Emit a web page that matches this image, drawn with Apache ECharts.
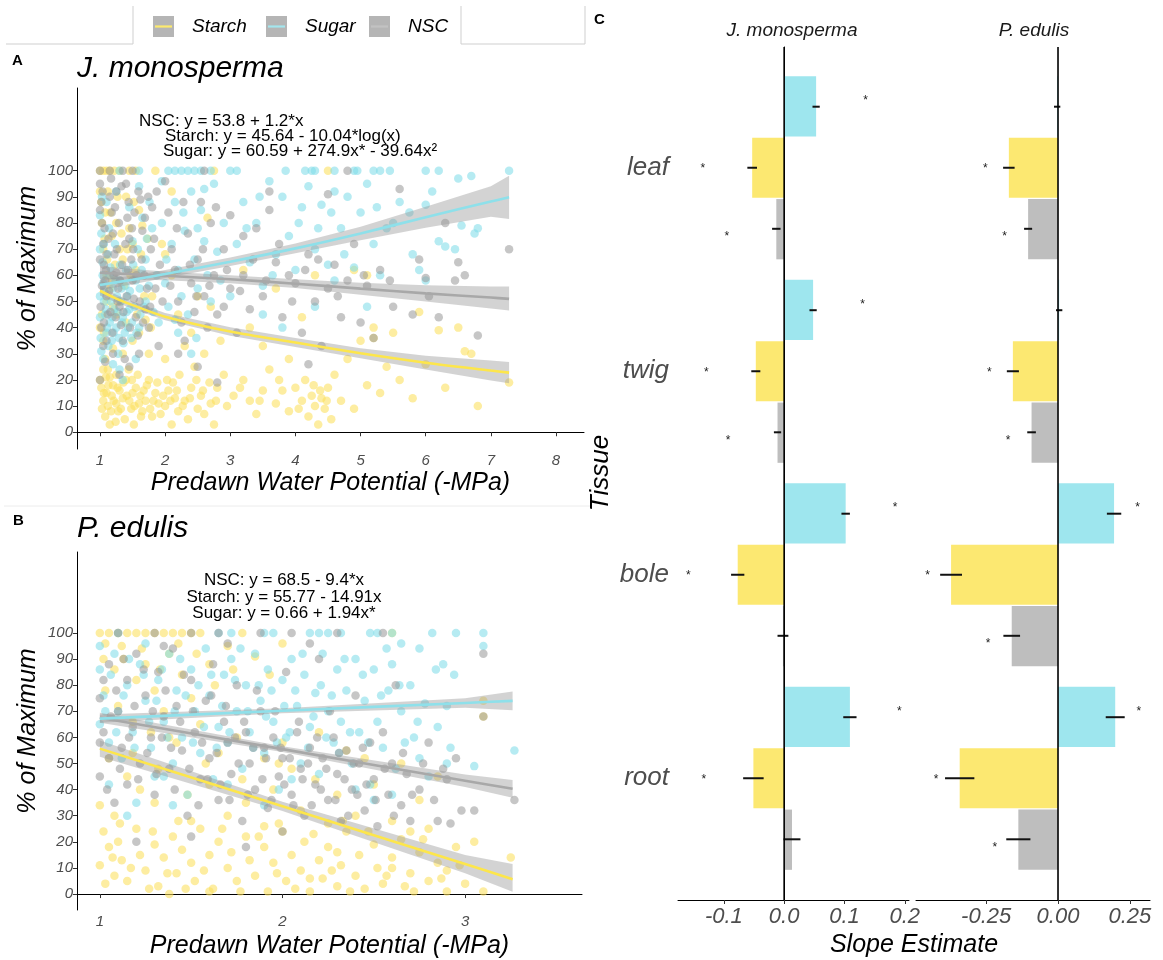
<!DOCTYPE html>
<html>
<head>
<meta charset="utf-8">
<script src="https://cdn.jsdelivr.net/npm/echarts@6/dist/echarts.min.js"></script>
<style>
  html, body { margin: 0; background: #fff; }
  #main { width: 1163px; height: 960px; }
</style>
</head>
<body>
<div id="main"></div>
<script>
const FONT = '"Liberation Sans", Arial, Helvetica, sans-serif';

// ---- panel A: J. monosperma, points [predawn, % of max]
const starchA = [[1,100],[1.05,100],[1.1,100],[1.15,100],[1.22,100],[1.3,100],[1.45,100],[1.55,100],[1.85,100],[2.75,100],[4.5,100],
  [1.02,88],[1.08,84],[1.12,92],[1.18,75],[1.25,80],[1.3,70],[1.35,66],[1.4,90],[1.45,78],[1.5,72],[1.55,62],[1.6,85],[1.65,79],[1.05,70],[1.1,60],[1.15,55],[1.2,48],[1.25,45],[1.3,50],[1.4,42],[1.5,35],[1.35,30],[1.05,35],[1.08,28],[1.12,24],[1.2,32],[1.6,38],[1.7,43],[1.75,30],[1.8,52],[2.1,92],[2.0,68],[1.95,72],
  [1.02,17],[1.05,12],[1.08,6],[1.1,15],[1.12,10],[1.15,3],[1.18,14],[1.2,18],[1.25,11],[1.28,8],[1.3,16],[1.35,13],[1.38,5],[1.4,20],[1.45,12],[1.48,9],[1.5,15],[1.52,3],[1.55,17],[1.6,11],[1.62,14],[1.65,8],[1.7,12],[1.75,20],[1.8,6],[1.85,15],[1.9,11],[1.25,22],[1.15,21],[1.05,24],
  [2.0,10],[2.05,16],[2.1,3],[2.12,19],[2.15,13],[2.2,8],[2.22,22],[2.3,12],[2.35,5],[2.4,17],[2.45,25],[2.5,9],[2.55,14],[2.6,7],[2.7,11],[2.75,3],[2.8,17],[2.9,22],[2.95,10],[2.2,45],[2.4,38],[2.5,52],[2.6,30],[2.7,48],[2.85,35],[2.1,60],[2.3,33],[2.65,82],[2.0,28],
  [3.05,14],[3.2,20],[3.3,12],[3.4,7],[3.5,16],[3.6,24],[3.7,11],[3.8,16],[3.9,8],[4.0,17],[4.1,12],[4.2,6],[4.25,14],[4.3,10],[4.35,3],[4.4,13],[4.45,9],[4.5,17],[3.3,40],[3.5,33],[3.7,55],[3.9,28],[4.1,44],[4.3,60],[3.2,62],
  [4.6,22],[4.7,12],[4.8,28],[4.9,9],[5.0,35],[5.1,18],[5.2,40],[5.3,15],[5.4,25],[5.5,38],[5.6,20],[5.8,13],[5.9,46],[6.0,26],[6.2,39],[6.3,17],[6.5,40],[6.6,31],[6.7,30],[6.8,10],[7.28,19],[5.1,60],[5.2,36],[4.9,62],
  [1.0,92],[1.03,80],[1.07,74],[1.11,66],[1.16,84],[1.19,58],[1.23,64],[1.27,90],[1.33,76],[1.37,56],[1.42,70],[1.47,60],[1.52,88],[1.57,45],[1.63,68],[1.68,52],[1.73,74],[1.78,40],[1.0,40],[1.03,45],[1.06,38],[1.1,50],
  [1.0,20],[1.03,9],[1.06,15],[1.09,21],[1.13,18],[1.17,8],[1.21,12],[1.24,4],[1.27,17],[1.32,9],[1.36,19],[1.41,14],[1.44,24],[1.49,20],[1.53,10],[1.58,22],[1.63,6],[1.67,16],[1.72,18],[1.77,9],[1.82,12],[1.88,19],[1.93,7],[1.97,14],
  [2.03,20],[2.08,12],[2.18,16],[2.27,10],[2.38,13],[2.48,20],[2.58,16],[2.68,19],[2.78,12],[3.15,17],[3.45,12],[3.75,20],[4.05,9],[4.15,20],[4.28,18],[4.38,16],[4.48,12],[4.55,5]];
const sugarA = [[1.3,100],[1.6,100],[2.05,100],[2.15,100],[2.25,100],[2.35,100],[2.45,100],[2.55,100],[2.7,100],[3.0,100],[3.1,100],[3.85,100],[4.15,100],[4.25,100],[4.3,100],[4.6,100],[4.9,100],[4.95,100],[5.2,100],[5.3,100],[5.45,100],[6.0,100],[6.2,100],[7.28,100],
  [1.0,83],[1.02,76],[1.04,65],[1.05,57],[1.06,50],[1.08,45],[1.1,38],[1.02,31],[1.12,68],[1.15,60],[1.15,42],[1.18,35],[1.2,55],[1.22,47],[1.25,40],[1.28,30],[1.3,58],[1.32,50],[1.35,44],[1.38,38],[1.4,62],[1.42,52],[1.45,47],[1.48,36],[1.5,73],[1.55,58],[1.6,94],[1.62,45],[1.65,82],[1.7,66],[1.75,56],[1.8,78],[1.3,24],[1.2,26],[1.1,88],[1.25,92],[1.45,86],[1.55,28],[1.35,20],[1.05,28],[1.7,50],[1.6,40],
  [1.95,80],[2.0,57],[2.05,48],[2.1,72],[2.15,88],[2.2,62],[2.25,52],[2.3,77],[2.35,45],[2.4,92],[2.45,66],[2.5,55],[2.55,85],[2.6,73],[2.65,60],[2.7,50],[2.75,95],[2.8,69],[2.9,80],[3.0,52],[2.2,38],[2.4,30],[2.15,43],[2.6,93],
  [3.1,72],[3.2,88],[3.3,65],[3.4,80],[3.5,56],[3.6,96],[3.7,68],[3.8,90],[3.9,75],[4.0,62],[4.1,86],[4.2,94],[4.3,70],[4.4,87],[4.5,64],[4.6,92],[4.7,78],[4.8,90],[4.9,63],[5.0,84],[3.8,40],[4.3,48],[4.6,58],[3.5,45],
  [5.1,95],[5.2,72],[5.3,60],[5.4,78],[5.5,80],[5.6,88],[5.8,68],[6.0,58],[6.0,87],[6.2,73],[6.3,71],[6.5,97],[6.55,79],[6.7,98],[6.75,76],[6.8,78],[5.1,48],[5.9,62],
  [1.0,70],[1.0,52],[1.0,44],[1.01,36],[1.03,90],[1.04,60],[1.06,72],[1.07,54],[1.09,47],[1.11,40],[1.13,33],[1.14,78],[1.16,63],[1.17,50],[1.19,44],[1.21,38],[1.23,72],[1.24,58],[1.26,52],[1.27,46],[1.29,36],[1.31,64],[1.33,55],[1.34,42],[1.36,34],[1.39,56],[1.41,46],[1.43,40],[1.46,54],[1.49,42],[1.51,64],[1.53,48],[1.56,38],[1.58,70],[1.61,55],[1.64,62],[1.67,48],[1.72,74],[1.76,88],[1.82,46],[1.87,60],[1.9,42],
  [2.02,66],[2.28,84],[2.5,78],[2.85,58],[3.25,78],[3.45,90],[3.65,60],[4.05,80],[4.35,78],[4.55,84],[4.75,68],[5.25,86],[5.75,84],[6.45,70],[6.1,92],[1.95,96],[2.48,36]];
const nscA = [[1.0,100],[1.15,100],[1.35,100],[1.5,100],[2.6,100],[4.8,100],
  [1.0,95],[1.02,88],[1.03,80],[1.05,72],[1.06,64],[1.08,58],[1.1,52],[1.12,45],[1.02,40],[1.05,33],[1.08,27],[1.0,20],[1.15,90],[1.18,84],[1.2,76],[1.22,68],[1.25,61],[1.28,55],[1.3,48],[1.32,41],[1.35,35],[1.38,28],[1.4,95],[1.42,82],[1.45,74],[1.48,66],[1.5,58],[1.52,51],[1.55,44],[1.58,37],[1.6,30],[1.62,89],[1.65,77],[1.68,60],[1.7,47],[1.75,40],[1.78,70],[1.8,86],[1.85,55],[1.9,33],[1.3,22],[1.2,30],[1.45,25],[1.1,68],[1.25,92],
  [2.0,96],[2.05,84],[2.1,70],[2.15,62],[2.2,50],[2.25,42],[2.3,35],[2.35,76],[2.4,57],[2.45,46],[2.5,66],[2.55,88],[2.6,52],[2.65,40],[2.7,80],[2.75,60],[2.8,45],[2.9,70],[3.0,55],[3.0,83],[3.1,38],[3.2,60],[3.3,47],[3.4,78],[3.5,52],[2.2,30],[2.9,48],[2.5,25],[3.2,75],[2.8,19],
  [3.6,85],[3.7,65],[3.8,44],[3.9,60],[4.0,57],[4.1,38],[4.2,68],[4.3,50],[4.4,33],[4.5,55],[4.6,64],[4.7,44],[4.8,58],[4.9,72],[5.0,42],[5.1,56],[5.2,36],[5.3,62],[5.5,48],[5.6,93],[5.8,45],[5.9,66],[6.0,59],[6.2,44],[6.3,80],[6.5,65],[6.6,60],[6.8,37],[7.28,70],[4.5,91],[3.6,92],[4.2,26],
  [1.0,85],[1.0,66],[1.01,48],[1.03,56],[1.04,92],[1.06,42],[1.07,78],[1.09,62],[1.1,35],[1.13,74],[1.14,54],[1.16,46],[1.17,97],[1.19,38],[1.21,60],[1.23,86],[1.24,44],[1.26,70],[1.27,50],[1.29,80],[1.31,58],[1.33,94],[1.34,64],[1.36,46],[1.39,72],[1.41,52],[1.43,62],[1.44,88],[1.46,40],[1.49,78],[1.51,70],[1.53,84],[1.56,60],[1.59,92],[1.61,50],[1.64,66],[1.66,42],[1.69,82],[1.72,55],[1.74,90],[1.77,48],[1.83,74],[1.87,92],[1.92,64],[1.96,50],
  [2.08,56],[2.18,78],[2.28,88],[2.38,64],[2.48,52],[2.58,70],[2.68,56],[2.78,86],[2.95,62],[3.15,54],[3.35,66],[3.55,58],[3.75,72],[3.95,50],[4.15,62],[4.35,66],[4.65,52],[5.05,60],[5.45,58],[6.05,52],[6.45,58]];

// fitted curves and 95% bands, panel A
const fitXA = [1, 1.25, 1.5, 2, 3, 4, 5, 6, 7, 7.28];
const starchFitA = [54.1, 51.1, 48.6, 44.2, 38.5, 34.3, 30.2, 26.6, 23.6, 22.8];
const starchLoA  = [52.3, 49.6, 47.2, 42.8, 36.9, 32.6, 28.3, 24.0, 19.8, 18.7];
const starchHiA  = [55.9, 52.6, 50.0, 45.6, 40.1, 36.0, 32.1, 29.2, 27.4, 26.9];
const sugarFitA  = [56.3, 57.3, 58.3, 60.5, 65.2, 70.3, 76.0, 82.2, 88.2, 89.8];
const sugarLoA   = [54.2, 55.4, 56.6, 59.0, 63.6, 68.4, 73.4, 78.2, 82.4, 81.5];
const sugarHiA   = [58.4, 59.2, 59.9, 62.0, 66.8, 72.2, 78.6, 86.2, 94.0, 98.1];
const nscFitA    = [61.0, 60.7, 60.4, 59.8, 58.5, 56.8, 54.9, 53.1, 51.5, 51.0];
const nscLoA     = [58.5, 58.4, 58.4, 58.1, 57.0, 55.1, 52.6, 50.0, 47.3, 46.5];
const nscHiA     = [63.5, 63.0, 62.4, 61.5, 60.0, 58.5, 57.2, 56.2, 55.7, 55.7];

// ---- panel B: P. edulis
const starchB = [[1.0,100],[1.05,100],[1.1,100],[1.15,100],[1.2,100],[1.25,100],[1.3,100],[1.35,100],[1.4,100],[1.45,100],[1.5,100],[1.55,100],[1.78,100],[2.6,100],
  [1.02,90],[1.08,86],[1.12,95],[1.2,82],[1.25,88],[1.3,78],[1.38,92],[1.45,84],[1.5,75],[1.6,88],[1.7,95],[1.85,91],[2.0,96],[1.1,72],[1.18,66],[1.28,62],[1.35,70],[1.42,58],[1.55,65],[1.65,54],[1.75,60],[1.9,52],[2.05,48],[2.2,62],[2.35,55],[2.5,42],[2.65,50],[2.85,45],[3.1,74],[3.1,68],[1.05,52],[1.15,45],[1.22,40],[1.32,48],[1.48,38],[1.6,42],[1.8,35],[1.95,40],[2.1,32],[2.3,38],[2.4,30],[2.7,24],[1.0,34],[1.08,30],[1.3,35],[1.5,28],[2.0,58],[1.7,30],
  [1.0,11],[1.02,24],[1.05,18],[1.08,7],[1.1,20],[1.12,13],[1.15,5],[1.2,25],[1.22,15],[1.25,9],[1.3,19],[1.32,3],[1.35,14],[1.4,22],[1.42,8],[1.45,17],[1.5,12],[1.52,5],[1.55,25],[1.6,15],[1.62,2],[1.65,20],[1.7,10],[1.72,16],[1.75,5],[1.8,22],[1.82,13],[1.85,7],[1.9,18],[1.92,1],[1.95,12],[2.0,24],[2.02,5],[2.05,15],[2.1,9],[2.12,20],[2.15,1],[2.2,13],[2.22,6],[2.25,18],[2.3,3],[2.32,11],[2.35,24],[2.4,7],[2.42,15],[2.45,2],[2.5,19],[2.52,10],[2.55,4],[2.6,14],[2.65,21],[2.7,8],[2.72,1],[2.75,16],[2.8,5],[2.85,12],[2.9,9],[2.95,18],[3.0,4],[3.1,1],[3.25,14],[2.25,27],[1.98,27],[1.38,0],[2.8,25],[2.6,28],
  [1.03,96],[1.13,90],[1.23,94],[1.33,86],[1.43,96],[1.53,92],[1.63,80],[1.73,86],[1.93,84],[1.03,78],[1.18,54],[1.38,60],[1.58,50],[1.78,44],[1.98,50],[2.18,44],[2.45,52],[2.75,36],
  [1.03,4],[1.07,14],[1.11,27],[1.17,10],[1.27,2],[1.29,24],[1.37,8],[1.43,28],[1.47,2],[1.57,9],[1.67,25],[1.77,1],[1.87,22],[1.97,8],[2.07,2],[2.17,23],[2.27,9],[2.37,1],[2.47,24],[2.57,7],[2.67,3],[2.77,21],[2.87,6],[2.97,11],[3.05,20],[2.33,28],[1.9,26],[1.6,1],[2.3,16],[2.15,6],[2.6,10],[2.9,1]];
const sugarB = [[1.65,100],[1.72,100],[1.9,100],[1.95,100],[2.15,100],[2.2,100],[2.25,100],[2.32,100],[2.48,100],[2.52,100],[2.6,100],[2.82,100],[2.95,100],[3.1,100],[1.1,100],
  [1.0,86],[1.0,65],[1.02,76],[1.05,58],[1.05,42],[1.08,92],[1.1,70],[1.12,52],[1.15,80],[1.18,62],[1.2,35],[1.22,88],[1.25,74],[1.28,56],[1.3,45],[1.32,82],[1.35,66],[1.38,92],[1.4,50],[1.42,78],[1.45,60],[1.48,38],[1.5,86],[1.52,70],[1.55,54],[1.58,94],[1.6,76],[1.62,44],[1.65,64],[1.68,84],[1.7,58],[1.72,90],[1.75,70],[1.78,48],[1.8,80],[1.82,62],[1.85,92],[1.88,74],[1.9,54],[1.92,86],[1.95,66],[1.98,40],[2.0,82],[2.02,60],[2.05,90],[2.08,72],[2.1,50],[2.12,84],[2.15,64],[2.18,77],[2.2,46],[2.22,92],[2.25,70],[2.28,58],[2.3,86],[2.32,66],[2.35,78],[2.38,50],[2.4,90],[2.42,62],[2.45,74],[2.48,42],[2.5,86],[2.52,66],[2.55,56],[2.58,78],[2.6,88],[2.62,48],[2.65,70],[2.7,80],[2.72,60],[2.75,94],[2.78,73],[2.8,45],[2.85,64],[2.88,88],[2.9,72],[2.92,56],[3.05,49],[3.1,95],[3.27,55],[1.15,30],[1.4,34],[1.9,34],[2.5,36],[1.25,96],[2.65,96],
  [1.0,95],[1.03,70],[1.06,84],[1.09,62],[1.13,76],[1.16,90],[1.19,56],[1.24,84],[1.27,66],[1.31,74],[1.34,86],[1.37,60],[1.41,70],[1.44,90],[1.47,76],[1.51,58],[1.54,80],[1.57,64],[1.61,84],[1.64,56],[1.67,72],[1.71,62],[1.74,82],[1.77,94],[1.81,70],[1.84,56],[1.87,80],[1.91,68],[1.94,78],[1.97,58],
  [2.01,72],[2.04,62],[2.07,78],[2.11,92],[2.14,56],[2.17,68],[2.21,80],[2.24,60],[2.27,76],[2.31,54],[2.34,90],[2.37,62],[2.44,84],[2.47,58],[2.54,76],[2.57,94],[2.64,80],[2.67,58],[2.74,66],[2.84,86],[2.94,84],[2.9,50],[2.75,52],[1.35,45],[1.7,42],[2.05,44],[2.4,40],[2.6,38]];
const nscB = [[1.1,100],[1.3,100],[1.5,100],[1.65,100],[1.88,100],[2.05,100],[2.3,100],[2.55,100],
  [1.0,75],[1.0,45],[1.02,62],[1.05,88],[1.05,52],[1.08,35],[1.1,70],[1.12,56],[1.15,82],[1.15,42],[1.18,64],[1.2,92],[1.22,50],[1.25,76],[1.28,60],[1.3,38],[1.32,85],[1.35,68],[1.38,48],[1.4,94],[1.42,72],[1.45,55],[1.48,30],[1.5,82],[1.52,62],[1.55,44],[1.58,74],[1.6,52],[1.62,88],[1.65,36],[1.68,66],[1.7,58],[1.72,46],[1.75,80],[1.78,28],[1.8,62],[1.82,50],[1.85,40],[1.88,70],[1.9,56],[1.92,33],[1.95,60],[1.98,45],[2.0,52],[2.02,85],[2.05,38],[2.08,62],[2.1,48],[2.12,30],[2.15,56],[2.18,42],[2.2,90],[2.22,52],[2.25,36],[2.28,60],[2.3,46],[2.32,28],[2.35,55],[2.38,40],[2.4,76],[2.42,50],[2.45,32],[2.48,58],[2.5,44],[2.52,26],[2.55,62],[2.58,38],[2.6,50],[2.62,80],[2.65,34],[2.68,46],[2.7,28],[2.75,40],[2.8,58],[2.85,28],[2.88,48],[2.92,27],[3.05,32],[3.1,92],[3.1,68],[3.27,36],[1.2,20],[1.5,22],[1.8,18],[2.0,24],[1.35,95],[2.15,96],[1.7,96],
  [1.0,58],[1.02,82],[1.04,40],[1.06,68],[1.09,78],[1.11,48],[1.13,90],[1.16,60],[1.19,72],[1.21,44],[1.24,86],[1.26,54],[1.29,70],[1.31,46],[1.34,60],[1.36,78],[1.39,56],[1.41,40],[1.44,66],[1.46,84],[1.49,48],[1.51,70],[1.54,34],[1.56,58],[1.59,44],[1.61,76],[1.64,54],[1.66,42],[1.69,72],[1.71,36],[1.74,60],[1.76,50],[1.79,66],[1.81,38],[1.84,56],[1.86,78],[1.89,44],[1.91,52],[1.94,36],[1.96,70],
  [1.99,56],[2.01,42],[2.04,52],[2.06,34],[2.09,66],[2.11,44],[2.14,50],[2.16,34],[2.19,60],[2.21,40],[2.24,48],[2.26,70],[2.29,36],[2.31,54],[2.34,44],[2.36,30],[2.39,50],[2.41,38],[2.44,56],[2.46,42],[2.51,36],[2.56,48],[2.61,30],[2.66,54],[2.71,38],[2.77,50],[2.83,36],[2.9,44],[2.95,52],[2.98,32]];

const fitXB = [1, 2, 3, 3.26];
const starchFitB = [55.7, 33.6, 11.5, 5.7];
const starchLoB  = [52.6, 31.8, 8.0, 0.9];
const starchHiB  = [58.8, 35.4, 15.0, 11.5];
const sugarFitB  = [67.2, 70.2, 73.2, 74.0];
const sugarLoB   = [65.6, 69.2, 71.4, 70.4];
const sugarHiB   = [68.8, 71.2, 75.0, 77.6];
const nscFitB    = [67.5, 55.5, 43.4, 40.3];
const nscLoB     = [65.6, 54.4, 41.0, 36.9];
const nscHiB     = [69.4, 56.6, 45.8, 43.7];

// ---- panel C: slope estimates by tissue (rows: Sugar, Starch, NSC)
const tissues = ['leaf', 'twig', 'bole', 'root'];
const seriesNames = ['Sugar', 'Starch', 'NSC'];
const slopeJ = [[0.053, 0.048, 0.102, 0.109], [-0.053, -0.047, -0.077, -0.051], [-0.013, -0.011, -0.002, 0.013]];
const seJ    = [[0.006, 0.006, 0.007, 0.011], [0.008, 0.0075, 0.011, 0.017], [0.007, 0.006, 0.009, 0.014]];
const sigJ   = [[1, 1, 1, 1], [1, 1, 1, 1], [1, 1, 0, 0]];
const slopeP = [[-0.003, 0.004, 0.195, 0.199], [-0.171, -0.157, -0.372, -0.342], [-0.104, -0.092, -0.161, -0.138]];
const seP    = [[0.011, 0.011, 0.025, 0.033], [0.02, 0.021, 0.038, 0.051], [0.014, 0.015, 0.029, 0.042]];
const sigP   = [[0, 0, 1, 1], [1, 1, 1, 1], [1, 1, 1, 1]];

const xTicksA = [1, 2, 3, 4, 5, 6, 7, 8];
const xTicksB = [1, 2, 3];
const yTicks = [0, 10, 20, 30, 40, 50, 60, 70, 80, 90, 100];
const xTicksJ = [-0.1, 0, 0.1, 0.2];
const xTicksP = [-0.25, 0, 0.25];

// colours
const pointCol = { Starch: 'rgba(252,224,92,0.72)', Sugar: 'rgba(128,220,232,0.72)', NSC: 'rgba(150,150,150,0.68)' };
const lineCol = { Starch: '#FDE64B', Sugar: '#8EE0EA', NSC: '#A8A8A8' };
const keyLineCol = { Starch: '#FDE64B', Sugar: '#8EE0EA', NSC: '#b4b4b4' };
const barCol = { Sugar: '#9EE6EE', Starch: '#FCE871', NSC: '#BEBEBE' };

const tickText = { fontStyle: 'italic', fontSize: 15, color: '#4d4d4d', fontFamily: FONT };
const titleText = { fontStyle: 'italic', fontSize: 25, color: '#000', fontFamily: FONT };

function scatterAxes(gi, xmin, xmax, xt, ymin, ymax, nameGapX) {
  const x = {
    gridIndex: gi, type: 'value', min: xmin, max: xmax,
    axisLine: { lineStyle: { color: '#000', width: 1 } },
    axisTick: { length: 4, lineStyle: { color: '#333' }, customValues: xt },
    axisLabel: Object.assign({ margin: 4, customValues: xt }, tickText),
    splitLine: { show: false },
    name: 'Predawn Water Potential (-MPa)', nameLocation: 'middle', nameGap: nameGapX, nameTextStyle: titleText
  };
  const y = {
    gridIndex: gi, type: 'value', min: ymin, max: ymax,
    axisLine: { show: true, lineStyle: { color: '#000', width: 1 } },
    axisTick: { show: true, length: 4, lineStyle: { color: '#333' }, customValues: yTicks },
    axisLabel: Object.assign({ margin: 4, customValues: yTicks }, tickText),
    splitLine: { show: false },
    name: '% of Maximum', nameLocation: 'middle', nameGap: 36, nameRotate: 90, nameTextStyle: titleText
  };
  return [x, y];
}

function pointSeries(gi, name, data) {
  return { type: 'scatter', name, xAxisIndex: gi, yAxisIndex: gi, data, symbolSize: 8.5,
    itemStyle: { color: pointCol[name] }, silent: true, z: 2 };
}
// confidence band drawn as one polygon through the axis scales
function bandSeries(gi, xs, lo, hi) {
  return {
    type: 'custom', xAxisIndex: gi, yAxisIndex: gi, silent: true, z: 3,
    data: xs.map((x, i) => [x, lo[i], hi[i]]), encode: { x: 0, y: [1, 2] },
    renderItem(params, api) {
      if (params.dataIndex !== 0) return null;
      const top = xs.map((x, i) => api.coord([x, hi[i]]));
      const bot = xs.map((x, i) => api.coord([x, lo[i]])).reverse();
      return { type: 'polygon', shape: { points: top.concat(bot) }, style: { fill: 'rgba(150,150,150,0.42)' } };
    }
  };
}
function fitSeries(gi, name, xs, ys) {
  return { type: 'line', name, xAxisIndex: gi, yAxisIndex: gi, smooth: 0.3, symbol: 'none', silent: true, z: 4,
    lineStyle: { color: lineCol[name], width: 2.6 }, data: xs.map((x, i) => [x, ys[i]]) };
}

// panel C helpers
const starDy = [-6, 1, 8];
function barSeries(ai, est) {
  return seriesNames.map((n, k) => ({
    type: 'bar', name: n, xAxisIndex: ai, yAxisIndex: ai, data: est[k],
    barCategoryGap: '10%', barGap: '2%', itemStyle: { color: barCol[n] }, silent: true, z: 2
  }));
}
function errSeries(ai, est, se, sig) {
  const data = [];
  est.forEach((row, k) => row.forEach((v, i) => data.push([v, i, k, se[k][i], sig[k][i]])));
  return {
    type: 'custom', xAxisIndex: ai, yAxisIndex: ai, silent: true, z: 6, data,
    encode: { x: 0, y: 1 },
    renderItem(params, api) {
      const v = api.value(0), cat = api.value(1), k = api.value(2), s = api.value(3), g = api.value(4);
      const band = Math.abs(api.size([0, 1])[1]);
      const y = api.coord([v, cat])[1] + (k - 1) * band * 0.3;
      const a = api.coord([v - s, cat])[0], b = api.coord([v + s, cat])[0];
      const children = [{ type: 'line', shape: { x1: a, y1: y, x2: b, y2: y }, style: { stroke: '#111', lineWidth: 2 } }];
      if (g) {
        const sx = api.coord([v + (v < 0 ? -0.082 : 0.082), cat])[0];
        children.push({ type: 'text', x: sx, y: y + starDy[k],
          style: { text: '*', fontSize: 12, fill: '#222', align: 'center', verticalAlign: 'middle', fontFamily: FONT } });
      }
      return { type: 'group', children };
    }
  };
}
function zeroLine(ai) {
  return {
    type: 'custom', xAxisIndex: ai, yAxisIndex: ai, silent: true, z: 8, data: [[0, 0.5]], encode: { x: 0, y: 1 },
    renderItem(params, api) {
      const p0 = api.coord([0, 0]), p1 = api.coord([0, 1]);
      return { type: 'line', shape: { x1: p0[0], y1: p0[1], x2: p1[0], y2: p1[1] }, style: { stroke: '#000', lineWidth: 1.6 } };
    }
  };
}
const slopeTick = { fontStyle: 'italic', fontSize: 22, color: '#4d4d4d', fontFamily: FONT };

function keyIcon(c) {
  const svg = '<svg xmlns="http://www.w3.org/2000/svg" width="21" height="21"><rect width="21" height="21" fill="#a3a3a3"/>' +
    '<line x1="2" y1="10.5" x2="19" y2="10.5" stroke="' + c + '" stroke-width="2.2"/></svg>';
  return 'image://data:image/svg+xml;charset=utf-8,' + encodeURIComponent(svg);
}

const axA = scatterAxes(0, 0.647, 8.43, xTicksA, -6.4, 131.6, 22);
const axB = scatterAxes(1, 0.875, 3.64, xTicksB, -6.1, 131, 24);

const chart = echarts.init(document.getElementById('main'), null, { renderer: 'canvas' });
chart.setOption({
  animation: false,
  backgroundColor: '#fff',
  textStyle: { fontFamily: FONT },
  title: [
    { text: 'J. monosperma', left: 77, top: 54, padding: 0, textStyle: { fontStyle: 'italic', fontWeight: 'normal', fontSize: 30, color: '#000', fontFamily: FONT } },
    { text: 'P. edulis', left: 77, top: 514, padding: 0, textStyle: { fontStyle: 'italic', fontWeight: 'normal', fontSize: 30, color: '#000', fontFamily: FONT } },
    { text: 'J. monosperma', left: 792, top: 21, padding: 0, textAlign: 'center', textStyle: { fontStyle: 'italic', fontWeight: 'normal', fontSize: 19, color: '#1a1a1a', fontFamily: FONT } },
    { text: 'P. edulis', left: 1034, top: 21, padding: 0, textAlign: 'center', textStyle: { fontStyle: 'italic', fontWeight: 'normal', fontSize: 19, color: '#1a1a1a', fontFamily: FONT } }
  ],
  legend: ['Starch', 'Sugar', 'NSC'].map((n, i) => ({
    data: [{ name: n, icon: keyIcon(keyLineCol[n]) }],
    left: [153, 266, 369][i], top: 16, padding: 0, itemWidth: 21, itemHeight: 21, selectedMode: false,
    textStyle: { fontStyle: 'italic', fontSize: 19, color: '#000', fontFamily: FONT, padding: [0, 0, 0, 13] }
  })),
  grid: [
    { left: 77, top: 88, width: 507, height: 361 },
    { left: 77, top: 552, width: 505, height: 358 },
    { left: 678, top: 47, width: 231, height: 853 },
    { left: 678, top: 66, width: 231, height: 814 },
    { left: 916, top: 47, width: 234, height: 853 },
    { left: 916, top: 66, width: 234, height: 814 }
  ],
  xAxis: [
    axA[0], axB[0],
    { gridIndex: 2, type: 'value', min: -0.176, max: 0.207,
      axisLine: { lineStyle: { color: '#000' } }, axisTick: { length: 4, lineStyle: { color: '#333' }, customValues: xTicksJ },
      axisLabel: Object.assign({ margin: 6, customValues: xTicksJ, formatter: v => v.toFixed(1) }, slopeTick), splitLine: { show: false } },
    { gridIndex: 3, type: 'value', min: -0.176, max: 0.207, show: false },
    { gridIndex: 4, type: 'value', min: -0.494, max: 0.32,
      axisLine: { lineStyle: { color: '#000' } }, axisTick: { length: 4, lineStyle: { color: '#333' }, customValues: xTicksP },
      axisLabel: Object.assign({ margin: 6, customValues: xTicksP, formatter: v => v.toFixed(2) }, slopeTick), splitLine: { show: false } },
    { gridIndex: 5, type: 'value', min: -0.494, max: 0.32, show: false }
  ],
  yAxis: [
    axA[1], axB[1],
    { gridIndex: 2, type: 'value', min: 0, max: 1, axisLine: { show: true, lineStyle: { color: '#000' } },
      axisTick: { show: false }, axisLabel: { show: false }, splitLine: { show: false } },
    { gridIndex: 3, type: 'category', inverse: true, data: tissues,
      axisLine: { show: false }, axisTick: { show: true, length: 5, alignWithLabel: true, lineStyle: { color: '#333' } },
      axisLabel: { margin: 9, fontStyle: 'italic', fontSize: 26, color: '#4d4d4d', fontFamily: FONT } },
    { gridIndex: 4, type: 'value', min: 0, max: 1, show: false },
    { gridIndex: 5, type: 'category', inverse: true, data: tissues, show: false }
  ],
  graphic: [
    { type: 'polyline', shape: { points: [[6, 44], [133, 44], [133, 6]] }, style: { stroke: '#cfcfcf', lineWidth: 1, fill: null } },
    { type: 'polyline', shape: { points: [[461, 6], [461, 44], [585, 44], [585, 6]] }, style: { stroke: '#cfcfcf', lineWidth: 1, fill: null } },
    { type: 'line', shape: { x1: 4, y1: 506, x2: 590, y2: 506 }, style: { stroke: '#ececec', lineWidth: 1 } },
    { type: 'text', x: 12, y: 61, style: { text: 'A', font: 'bold 15px ' + FONT, fill: '#000', verticalAlign: 'middle' } },
    { type: 'text', x: 13, y: 521, style: { text: 'B', font: 'bold 15px ' + FONT, fill: '#000', verticalAlign: 'middle' } },
    { type: 'text', x: 594, y: 20, style: { text: 'C', font: 'bold 15px ' + FONT, fill: '#000', verticalAlign: 'middle' } },
    { type: 'text', x: 139, y: 121, style: { text: 'NSC: y = 53.8 + 1.2*x', font: '17px ' + FONT, fill: '#000', verticalAlign: 'middle' } },
    { type: 'text', x: 165, y: 136, style: { text: 'Starch: y = 45.64 - 10.04*log(x)', font: '17px ' + FONT, fill: '#000', verticalAlign: 'middle' } },
    { type: 'text', x: 163, y: 151, style: { text: 'Sugar: y = 60.59 + 274.9x* - 39.64x²', font: '17px ' + FONT, fill: '#000', verticalAlign: 'middle' } },
    { type: 'text', x: 284, y: 580, style: { text: 'NSC: y = 68.5 - 9.4*x', font: '17px ' + FONT, fill: '#000', align: 'center', verticalAlign: 'middle' } },
    { type: 'text', x: 284, y: 597, style: { text: 'Starch: y = 55.77 - 14.91x', font: '17px ' + FONT, fill: '#000', align: 'center', verticalAlign: 'middle' } },
    { type: 'text', x: 284, y: 613, style: { text: 'Sugar: y = 0.66 + 1.94x*', font: '17px ' + FONT, fill: '#000', align: 'center', verticalAlign: 'middle' } },
    { type: 'text', x: 914, y: 945, style: { text: 'Slope Estimate', font: 'italic 25px ' + FONT, fill: '#000', align: 'center', verticalAlign: 'middle' } },
    { type: 'text', x: 601, y: 473, rotation: Math.PI / 2, style: { text: 'Tissue', font: 'italic 26px ' + FONT, fill: '#000', align: 'center', verticalAlign: 'middle' } }
  ],
  series: [
    pointSeries(0, 'Starch', starchA), pointSeries(0, 'Sugar', sugarA), pointSeries(0, 'NSC', nscA),
    bandSeries(0, fitXA, starchLoA, starchHiA),
    bandSeries(0, fitXA, sugarLoA, sugarHiA),
    bandSeries(0, fitXA, nscLoA, nscHiA),
    fitSeries(0, 'NSC', fitXA, nscFitA), fitSeries(0, 'Sugar', fitXA, sugarFitA), fitSeries(0, 'Starch', fitXA, starchFitA),

    pointSeries(1, 'Starch', starchB), pointSeries(1, 'Sugar', sugarB), pointSeries(1, 'NSC', nscB),
    bandSeries(1, fitXB, starchLoB, starchHiB),
    bandSeries(1, fitXB, sugarLoB, sugarHiB),
    bandSeries(1, fitXB, nscLoB, nscHiB),
    fitSeries(1, 'NSC', fitXB, nscFitB), fitSeries(1, 'Sugar', fitXB, sugarFitB), fitSeries(1, 'Starch', fitXB, starchFitB),

    ...barSeries(3, slopeJ), errSeries(3, slopeJ, seJ, sigJ), zeroLine(2),
    ...barSeries(5, slopeP), errSeries(5, slopeP, seP, sigP), zeroLine(4)
  ]
});
</script>
</body>
</html>
